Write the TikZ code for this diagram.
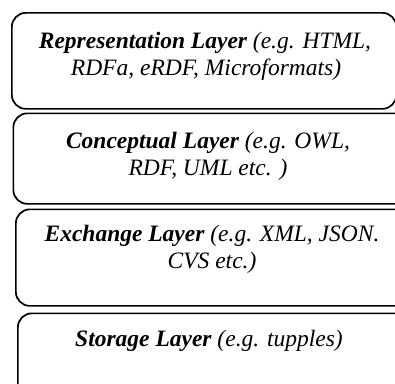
\documentclass[tikz,border=0pt]{standalone}
\usepackage{fontspec}
\setmainfont{Liberation Serif}
\tikzset{
  layer/.style={draw=black, line width=1.7pt, rounded corners=14pt,
    rectangle, anchor=north west, inner sep=0pt},
  lbl/.style={anchor=base, inner sep=0pt,
    font=\fontsize{23.5}{27}\selectfont\itshape},
}
\newcommand{\lname}[1]{\textbf{#1}}
\begin{document}
\begin{tikzpicture}[x=1pt,y=-1pt]
\clip (0,0) rectangle (395,383);
% the four stacked layers, each running past the right edge
\node[layer, minimum width=384.5pt, minimum height=96pt] (box1) at (11,12) {};
\node[layer, minimum width=400pt, minimum height=90.5pt] (box2) at (12.5,112.5) {};
\node[layer, minimum width=400pt, minimum height=96.5pt] (box3) at (15,208.5) {};
\node[layer, minimum width=400pt, minimum height=90pt] (box4) at (17,312.5) {};
% labels
\node[lbl] (t1a) at (205,48) {\lname{Representation Layer} (e.g. HTML,};
\node[lbl] (t1b) at (206,75) {RDFa, eRDF, Microformats)};
\node[lbl] (t2a) at (208,148) {\lname{Conceptual Layer} (e.g. OWL,};
\node[lbl] (t2b) at (208,175) {RDF, UML etc. )};
\node[lbl] (t3a) at (212,241) {\lname{Exchange Layer} (e.g. XML, JSON.};
\node[lbl] (t3b) at (212,268) {CVS etc.)};
\node[lbl] (t4a) at (209,346) {\lname{Storage Layer} (e.g. tupples)};
\end{tikzpicture}
\end{document}
